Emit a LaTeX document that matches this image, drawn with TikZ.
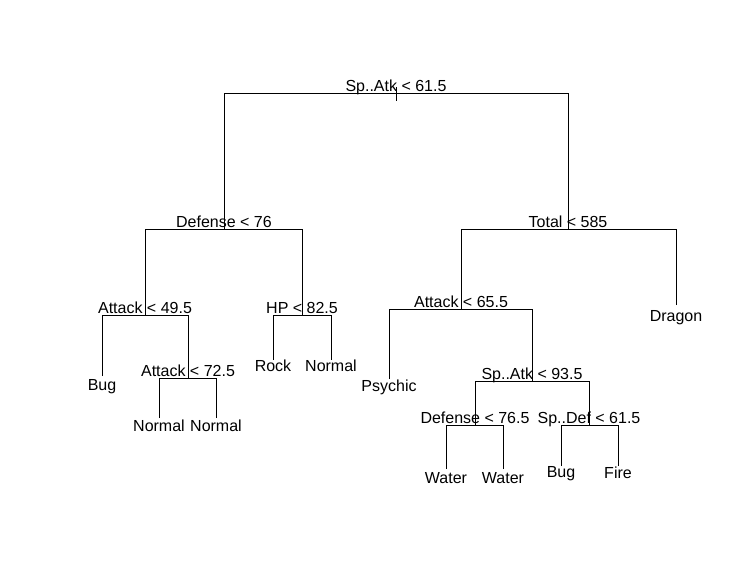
\documentclass[tikz,border=0pt]{standalone}
\usepackage{fontspec}
\setmainfont{Liberation Sans}
\begin{document}
\begin{tikzpicture}[x=1bp,y=-1bp,line width=1bp,
  lbl/.style={anchor=base,inner sep=0pt,font=\fontsize{16bp}{19bp}\selectfont},
  edge/.style={draw=black,line width=1bp}]
\useasboundingbox (0,0) rectangle (739,583);
% split points
\coordinate (n1) at (396,94);
\coordinate (n2) at (224,229);
\coordinate (n3) at (568,229);
\coordinate (n4) at (145,315);
\coordinate (n5) at (302,315);
\coordinate (n6) at (461,309);
\coordinate (n9) at (188,378);
\coordinate (n13) at (532,381);
\coordinate (n26) at (475,425);
\coordinate (n27) at (589,425);
% leaf ends
\coordinate (l8) at (102,376);
\coordinate (l18) at (159,418);
\coordinate (l19) at (216,418);
\coordinate (l10) at (273,360);
\coordinate (l11) at (331,360);
\coordinate (l12) at (389,379);
\coordinate (l52) at (446,469);
\coordinate (l53) at (503,469);
\coordinate (l54) at (561,466);
\coordinate (l55) at (618,466);
\coordinate (l7) at (676,305);
\coordinate (top) at (396,87);
\coordinate (bot) at (396,101);
% split labels
\node[lbl] (t1) at (396,92) {Sp..Atk < 61.5};
\node[lbl] (t2) at (224,227) {Defense < 76};
\node[lbl] (t3) at (568,227) {Total < 585};
\node[lbl] (t4) at (145,313) {Attack < 49.5};
\node[lbl] (t5) at (302,313) {HP < 82.5};
\node[lbl] (t6) at (461,307) {Attack < 65.5};
\node[lbl] (t9) at (188,376) {Attack < 72.5};
\node[lbl] (t13) at (532,379) {Sp..Atk < 93.5};
\node[lbl] (t26) at (475,423) {Defense < 76.5};
\node[lbl] (t27) at (589,423) {Sp..Def < 61.5};
% leaf labels
\node[lbl] (b8) at (102,390) {Bug};
\node[lbl] (b18) at (159,431) {Normal};
\node[lbl] (b19) at (216,431) {Normal};
\node[lbl] (b10) at (273,371) {Rock};
\node[lbl] (b11) at (331,371) {Normal};
\node[lbl] (b12) at (389,391) {Psychic};
\node[lbl] (b52) at (446,483) {Water};
\node[lbl] (b53) at (503,483) {Water};
\node[lbl] (b54) at (561,477.5) {Bug};
\node[lbl] (b55) at (618,478.5) {Fire};
\node[lbl] (b7) at (676,321) {Dragon};
% edges
\draw[edge] (top) -- (bot);
\draw[edge] (n2) |- (n1);
\draw[edge] (n3) |- (n1);
\draw[edge] (n4) |- (n2);
\draw[edge] (n5) |- (n2);
\draw[edge] (n6) |- (n3);
\draw[edge] (l7) |- (n3);
\draw[edge] (l8) |- (n4);
\draw[edge] (n9) |- (n4);
\draw[edge] (l18) |- (n9);
\draw[edge] (l19) |- (n9);
\draw[edge] (l10) |- (n5);
\draw[edge] (l11) |- (n5);
\draw[edge] (l12) |- (n6);
\draw[edge] (n13) |- (n6);
\draw[edge] (n26) |- (n13);
\draw[edge] (n27) |- (n13);
\draw[edge] (l52) |- (n26);
\draw[edge] (l53) |- (n26);
\draw[edge] (l54) |- (n27);
\draw[edge] (l55) |- (n27);
\end{tikzpicture}
\end{document}
